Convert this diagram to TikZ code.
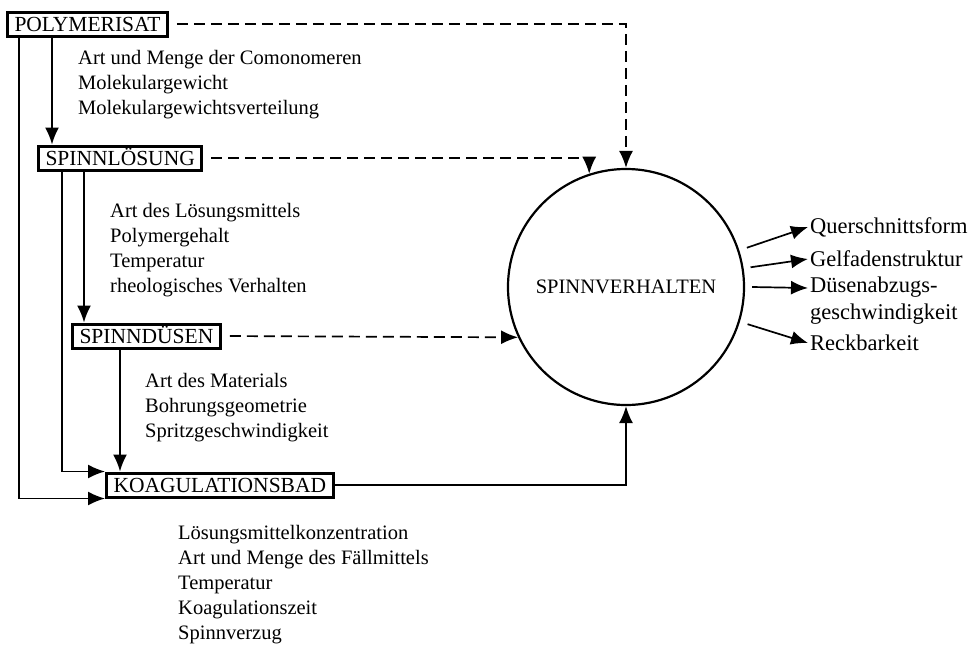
\documentclass[tikz,border=0pt]{standalone}
\usepackage{fontspec}
\setmainfont{Liberation Serif}
\usetikzlibrary{arrows.meta}

\tikzset{
  stage/.style={draw, line width=3pt, anchor=west, inner xsep=7pt, inner ysep=3pt,
    text height=16pt, text depth=2pt, font=\fontsize{21.5}{26}\selectfont},
  params/.style={anchor=north west, align=left, inner sep=0pt, font=\fontsize{20.5}{25}\selectfont},
  result/.style={anchor=west, inner sep=2pt, align=left, font=\fontsize{22.5}{27}\selectfont},
  flow/.style={line width=1.7pt, -{Latex[length=17pt,width=14pt]}},
  influence/.style={flow, dash pattern=on 11pt off 6pt, shorten <=8pt},
}

\begin{document}
\begin{tikzpicture}[x=1pt, y=-1pt]
\useasboundingbox (0,0) rectangle (977,651);

% stages of the process
\node[stage] (poly) at (6,24) {POLYMERISAT};
\node[stage] (loesung) at (37,158) {SPINNLÖSUNG};
\node[stage] (duesen) at (71,336) {SPINNDÜSEN};
\node[stage] (bad) at (105,485) {KOAGULATIONSBAD};
\node[draw, circle, line width=2.2pt, minimum size=236pt,
  font=\fontsize{20.5}{26}\selectfont] (sv) at (626,287) {SPINNVERHALTEN};

% influencing parameters
\node[params] (polypar) at (78,50) {Art und Menge der Comonomeren\\Molekulargewicht\\Molekulargewichtsverteilung};
\node[params] (loesungpar) at (110,203) {Art des Lösungsmittels\\Polymergehalt\\Temperatur\\rheologisches Verhalten};
\node[params] (duesenpar) at (145,373) {Art des Materials\\Bohrungsgeometrie\\Spritzgeschwindigkeit};
\node[params] (badpar) at (178,525) {Lösungsmittelkonzentration\\Art und Menge des Fällmittels\\Temperatur\\Koagulationszeit\\Spinnverzug};

% results
\node[result] (quer) at (808,227) {Querschnittsform};
\node[result] (gelf) at (808,259) {Gelfadenstruktur};
\node[result, anchor=north west] (abzug) at (808,275) {Düsenabzugs-\\geschwindigkeit};
\node[result] (reck) at (808,343) {Reckbarkeit};

% solid connectors
\coordinate (p1) at ([xshift=13pt]poly.south west);
\coordinate (p2) at ([xshift=46pt]poly.south west);
\coordinate (l1) at ([xshift=25pt]loesung.south west);
\coordinate (l2) at ([xshift=47pt]loesung.south west);
\coordinate (d1) at ([xshift=49pt]duesen.south west);
\draw[flow] (p1) |- (bad.south west);
\draw[flow] (p2) -- (p2 |- loesung.north);
\draw[flow] (l1) |- (bad.north west);
\draw[flow] (l2) -- (l2 |- duesen.north);
\draw[flow] (d1) -- (d1 |- bad.north);
\draw[flow] (bad.east) -| (sv.south);

% dashed connectors
\draw[influence] (poly.east) -| (sv.north);
\draw[influence] (loesung.east) -| (sv.108);
\draw[influence] (duesen.east) -- (sv.205);

% outputs
\draw[flow] ([shift={(18:8pt)}]sv.18) -- (quer.west);
\draw[flow] ([shift={(9:7pt)}]sv.9) -- (gelf.west);
\draw[flow] ([shift={(0:7pt)}]sv.0) -- ([yshift=-13pt]abzug.north west);
\draw[flow] ([shift={(-17:8pt)}]sv.-17) -- (reck.west);
\end{tikzpicture}
\end{document}
